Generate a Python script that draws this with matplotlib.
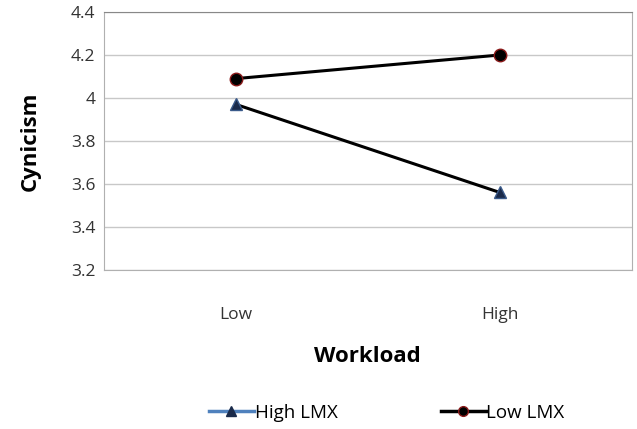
import matplotlib.pyplot as plt
from matplotlib.lines import Line2D

plt.rcParams["font.family"] = ["Open Sans", "DejaVu Sans"]

categories = ["Low", "High"]
high_lmx = [3.97, 3.56]
low_lmx = [4.09, 4.20]
y_ticks = [3.2, 3.4, 3.6, 3.8, 4.0, 4.2, 4.4]
y_labels = ["3.2", "3.4", "3.6", "3.8", "4", "4.2", "4.4"]

fig = plt.figure(figsize=(6.37, 4.29), dpi=100)
ax = fig.add_axes([0.163, 0.371, 0.829, 0.601])

x = [0.5, 1.5]
ax.plot(x, high_lmx, color="black", lw=2.2, marker="^", ms=8,
        markerfacecolor="#1a2a4a", markeredgecolor="#3a5a8a", zorder=3)
ax.plot(x, low_lmx, color="black", lw=2.2, marker="o", ms=9,
        markerfacecolor="black", markeredgecolor="#8a1a1a", zorder=3)

ax.set_xlim(0, 2)
ax.set_ylim(3.2, 4.4)
ax.set_yticks(y_ticks)
ax.set_yticklabels(y_labels)
ax.set_xticks(x)
ax.set_xticklabels(categories)
ax.tick_params(axis="both", length=0, labelsize=12.5, colors="#333333")
ax.tick_params(axis="x", pad=27)
ax.tick_params(axis="y", pad=6)
ax.grid(axis="y", color="#c8c8c8", lw=1)
ax.set_axisbelow(True)
for side in ["left", "bottom", "right"]:
    ax.spines[side].set_color("#b0b0b0")
ax.spines["top"].set_color("#888888")

ax.set_ylabel("Cynicism", fontsize=16, fontweight="bold", labelpad=22)
ax.set_xlabel("Workload", fontsize=16, fontweight="bold", labelpad=16)

handles = [
    Line2D([], [], color="#4f81bd", lw=2.5, marker="^", ms=7,
           markerfacecolor="#1a2a4a", markeredgecolor="#1a2a4a"),
    Line2D([], [], color="black", lw=2.5, marker="o", ms=7,
           markerfacecolor="black", markeredgecolor="#8a1a1a"),
]
fig.legend(handles, ["High LMX", "Low LMX"], loc="center", ncol=2,
           bbox_to_anchor=(0.607, 0.038), frameon=False, fontsize=13.5,
           handlelength=2.4, handletextpad=0.05, columnspacing=5.5)

fig.savefig("out.png", dpi=100)
